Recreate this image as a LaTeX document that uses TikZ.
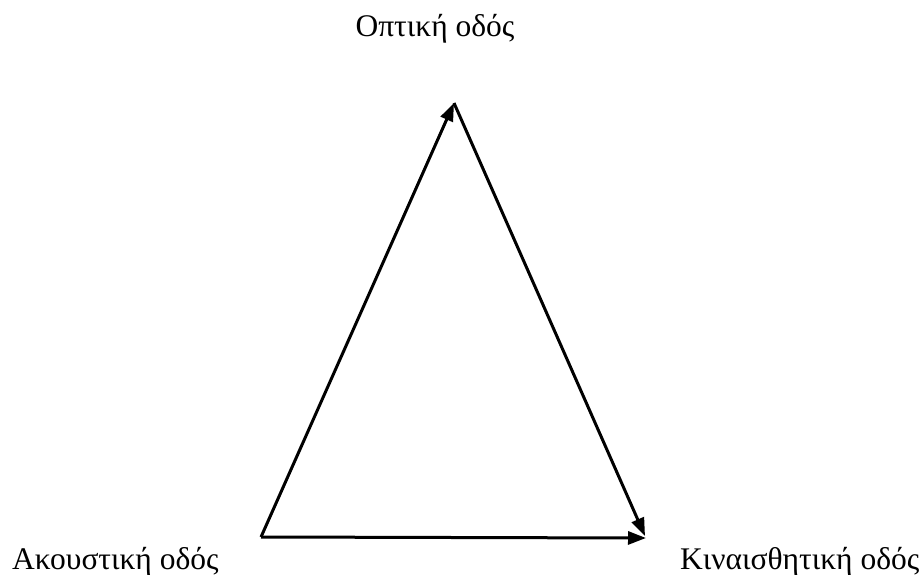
\documentclass[tikz,border=0pt]{standalone}
\usepackage{fontspec}
\setmainfont{Liberation Serif}
\usetikzlibrary{arrows.meta}
\begin{document}
\begin{tikzpicture}[x=1pt,y=-1pt,
  edge/.style={line width=3pt,-{Triangle[length=18pt,width=13pt]}},
  lbl/.style={font=\fontsize{31.5}{36}\selectfont,inner sep=0pt}]
\useasboundingbox (0,0) rectangle (923,575);
\coordinate (bl) at (261,537);
\coordinate (top) at (454,103);
\coordinate (br) at (645,536);
\coordinate (hr) at (646,538);
\node[lbl,anchor=base] (opt) at (435,37) {Οπτική οδός};
\node[lbl,anchor=base west] (ak) at (12,569) {Ακουστική οδός};
\node[lbl,anchor=base west] (kin) at (680,569) {Κιναισθητική οδός};
\draw[edge] (bl) -- (top);
\draw[edge] (top) -- (br);
\draw[edge] (bl) -- (hr);
\end{tikzpicture}
\end{document}
